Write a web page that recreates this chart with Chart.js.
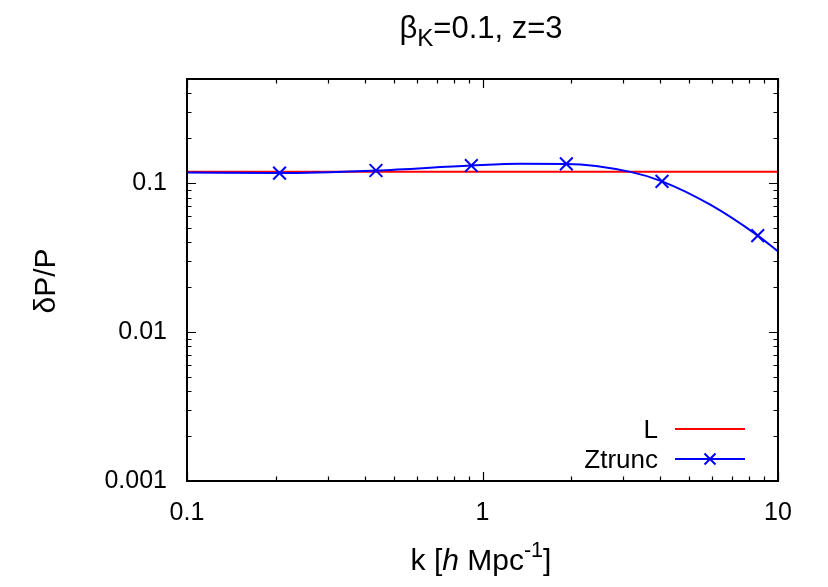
<!DOCTYPE html>
<html>
<head>
<meta charset="utf-8">
<script src="https://cdn.jsdelivr.net/npm/chart.js@4.4.1/dist/chart.umd.min.js"></script>
<style>
  html, body { margin: 0; padding: 0; background: #fff; }
  #wrap { width: 828px; height: 587px; }
</style>
</head>
<body>
<div id="wrap"><canvas id="dpChart" width="828" height="587"></canvas></div>
<script>
// dP/P versus k, log-log

const FONT = "'Liberation Sans', Arial, Helvetica, sans-serif";

// L: flat reference level
const lK = [0.1, 10];
const lVal = [0.119, 0.119];

// Ztrunc curve (sampled along the line)
const ztK = [0.1, 0.2057, 0.436, 0.9166, 1.343, 1.922, 3.165, 4.05, 5.9, 8.54, 10];
const ztVal = [0.1178, 0.1167, 0.1215, 0.1312, 0.1347, 0.1345, 0.119, 0.1028, 0.0716, 0.0444, 0.0348];

// Ztrunc points that carry an x marker
const markK = [0.2057, 0.436, 0.9166, 1.922, 4.05, 8.54];
const markVal = [0.1167, 0.1215, 0.1312, 0.1345, 0.1028, 0.0444];

// axis tick labels
const xTickValues = [0.1, 1, 10];
const xTickLabels = ['0.1', '1', '10'];
const yTickValues = [0.001, 0.01, 0.1];
const yTickLabels = ['0.001', '0.01', '0.1'];

const toPoints = (xs, ys) => xs.map((x, i) => ({ x, y: ys[i] }));

// minor tick values inside [lo, hi] on a log axis
function minorTicks(lo, hi) {
    const out = [];
    for (let d = Math.floor(Math.log10(lo)); d <= Math.ceil(Math.log10(hi)); d++) {
        for (let m = 2; m <= 9; m++) {
            const v = m * Math.pow(10, d);
            if (v > lo * 1.0001 && v < hi * 0.9999) out.push(v);
        }
    }
    return out;
}

// border box with inward ticks on all four sides
const framePlugin = {
    id: 'frame',
    afterDatasetsDraw(chart) {
        const { ctx, chartArea: a, scales } = chart;
        const xs = scales.x, ys = scales.y;
        ctx.save();
        ctx.strokeStyle = '#000';
        ctx.lineWidth = 1.2;
        ctx.beginPath();
        const tick = (vals, len) => {
            vals.forEach(v => {
                const px = Math.round(xs.getPixelForValue(v)) + 0.5;
                ctx.moveTo(px, a.bottom); ctx.lineTo(px, a.bottom - len);
                ctx.moveTo(px, a.top); ctx.lineTo(px, a.top + len);
            });
        };
        const tickY = (vals, len) => {
            vals.forEach(v => {
                const py = Math.round(ys.getPixelForValue(v)) + 0.5;
                ctx.moveTo(a.left, py); ctx.lineTo(a.left + len, py);
                ctx.moveTo(a.right, py); ctx.lineTo(a.right - len, py);
            });
        };
        tick(xTickValues, 9);
        tick(minorTicks(xs.min, xs.max), 4.5);
        tickY(yTickValues, 9);
        tickY(minorTicks(ys.min, ys.max), 4.5);
        ctx.stroke();

        ctx.lineWidth = 2;
        ctx.strokeRect(a.left, a.top, a.right - a.left, a.bottom - a.top);
        ctx.restore();
    }
};

// run of text pieces with optional sub/superscript and italics
function drawRuns(ctx, runs, x, y, size, align) {
    const widths = runs.map(r => {
        const s = size * (r.scale || 1);
        ctx.font = (r.italic ? 'italic ' : '') + s + 'px ' + FONT;
        return ctx.measureText(r.t).width;
    });
    const total = widths.reduce((p, w) => p + w, 0);
    let cx = align === 'center' ? x - total / 2 : (align === 'right' ? x - total : x);
    runs.forEach((r, i) => {
        const s = size * (r.scale || 1);
        ctx.font = (r.italic ? 'italic ' : '') + s + 'px ' + FONT;
        ctx.fillText(r.t, cx, y + (r.dy || 0));
        cx += widths[i];
    });
}

const textPlugin = {
    id: 'texts',
    afterDraw(chart) {
        const ctx = chart.ctx;
        ctx.save();
        ctx.fillStyle = '#000';
        ctx.textBaseline = 'alphabetic';
        ctx.textAlign = 'left';

        // title
        drawRuns(ctx, [
            { t: 'β' },
            { t: 'K', scale: 0.78, dy: 8 },
            { t: '=0.1, z=3' }
        ], 481, 38, 31, 'center');

        // x axis title
        drawRuns(ctx, [
            { t: 'k [' },
            { t: 'h', italic: true },
            { t: ' Mpc' },
            { t: '-1', scale: 0.72, dy: -13 },
            { t: ']' }
        ], 481, 570, 30, 'center');

        // y axis title
        ctx.save();
        ctx.translate(55, 281);
        ctx.rotate(-Math.PI / 2);
        drawRuns(ctx, [{ t: 'δP/P' }], 0, 0, 30, 'center');
        ctx.restore();

        // key
        const keyRows = [
            { label: 'L', color: '#ff0000', y: 429, mark: false },
            { label: 'Ztrunc', color: '#0000ff', y: 459, mark: true }
        ];
        keyRows.forEach(r => {
            drawRuns(ctx, [{ t: r.label }], 658, r.y + 9, 26, 'right');
            ctx.strokeStyle = r.color;
            ctx.lineWidth = 2;
            ctx.beginPath();
            ctx.moveTo(675, r.y); ctx.lineTo(745, r.y);
            if (r.mark) {
                const c = 710, s = 5.5;
                ctx.moveTo(c - s, r.y - s); ctx.lineTo(c + s, r.y + s);
                ctx.moveTo(c - s, r.y + s); ctx.lineTo(c + s, r.y - s);
            }
            ctx.stroke();
        });
        ctx.restore();
    }
};

const tickFont = { family: FONT, size: 25 };

new Chart(document.getElementById('dpChart'), {
    type: 'line',
    data: {
        datasets: [
            {
                label: 'Ztrunc marks',
                data: toPoints(markK, markVal),
                showLine: false,
                pointStyle: 'crossRot',
                pointRadius: 9,
                pointBorderWidth: 2,
                borderColor: '#0000ff',
                backgroundColor: '#0000ff',
                order: 0
            },
            {
                label: 'Ztrunc',
                data: toPoints(ztK, ztVal),
                borderColor: '#0000ff',
                borderWidth: 2,
                pointRadius: 0,
                cubicInterpolationMode: 'monotone',
                fill: false,
                order: 1
            },
            {
                label: 'L',
                data: toPoints(lK, lVal),
                borderColor: '#ff0000',
                borderWidth: 2,
                pointRadius: 0,
                fill: false,
                order: 2
            }
        ]
    },
    options: {
        responsive: false,
        animation: false,
        layout: { padding: { top: 79, right: 50, left: 0, bottom: 0 } },
        plugins: {
            legend: { display: false },
            tooltip: { enabled: false },
            title: { display: false }
        },
        scales: {
            x: {
                type: 'logarithmic',
                min: 0.1,
                max: 10,
                grid: { display: false, drawTicks: false },
                border: { display: false },
                afterBuildTicks: s => { s.ticks = xTickValues.map(v => ({ value: v, major: true })); },
                afterFit: s => { s.height = 587 - 481; },
                ticks: {
                    font: tickFont,
                    color: '#000',
                    padding: 17,
                    maxRotation: 0,
                    autoSkip: false,
                    callback: (v, i) => xTickLabels[i]
                }
            },
            y: {
                type: 'logarithmic',
                min: 0.001,
                max: 0.5,
                grid: { display: false, drawTicks: false },
                border: { display: false },
                afterBuildTicks: s => { s.ticks = yTickValues.map(v => ({ value: v, major: true })); },
                afterFit: s => { s.width = 187; },
                ticks: {
                    font: tickFont,
                    color: '#000',
                    padding: 20,
                    autoSkip: false,
                    callback: (v, i) => yTickLabels[i]
                }
            }
        }
    },
    plugins: [framePlugin, textPlugin]
});
</script>
</body>
</html>
